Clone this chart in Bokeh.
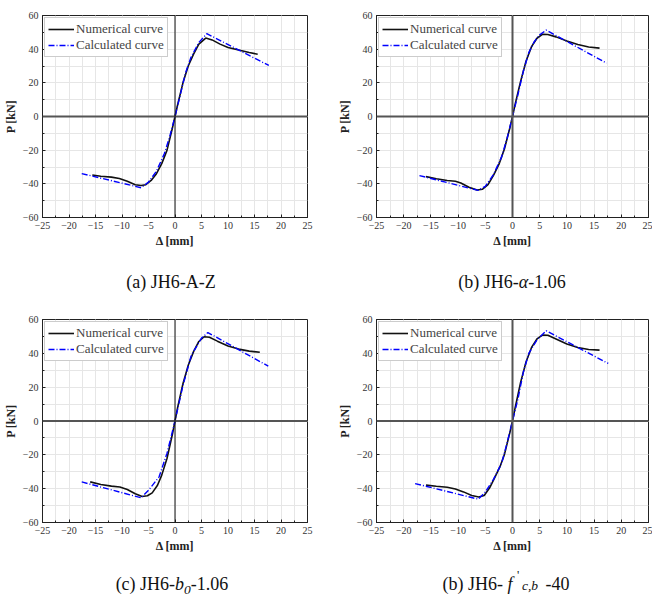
from bokeh.plotting import figure
from bokeh.layouts import column, row
from bokeh.models import SingleIntervalTicker, Span, Div
from bokeh.embed import file_html
from bokeh.resources import INLINE

# ---------------- data ----------------
# (a) JH6-A-Z
a_num_x = [-15.6, -14, -12, -10.5, -9, -7.5, -6.4, -5.5, -4.5, -3.5, -2.5, -1.5, -0.5, 0, 0.5, 1.5, 2.5, 3.5, 4.5, 5.8, 7, 8.5, 10, 12, 14, 15.6]
a_num_y = [-34.8, -35.5, -36, -36.8, -38.5, -40.5, -41, -40.5, -38, -34, -28, -20, -7, 0, 7, 20, 30, 37, 43, 46.6, 45.5, 43, 41, 39.5, 38, 37]
a_cal_x = [-17.6, -6.4, -5, -3.5, -2, -1, 0, 1, 2, 3, 4.5, 6.0, 17.7]
a_cal_y = [-33.9, -42.3, -39, -32.5, -22, -12, 0, 13, 26, 35, 44, 49.2, 30.3]

# (b) JH6-alpha-1.06
b_num_x = [-15.9, -14, -12, -10.5, -9.5, -8, -6.5, -5.5, -4.5, -3.5, -2.5, -1.5, -0.5, 0, 0.5, 1.5, 2.5, 3.5, 4.5, 5.5, 6.5, 8, 10, 12, 14, 16]
b_num_y = [-35.7, -37, -38, -38.5, -39.5, -42, -43.7, -43.2, -40.5, -35, -28.5, -19.5, -7, 0, 7.5, 21, 33, 41.5, 46.5, 48.8, 48.7, 47.3, 44.8, 42.8, 41.3, 40.6]
b_cal_x = [-17.1, -6.3, -5, -3.5, -2, -1, 0, 1, 2, 3, 4, 5, 6.2, 17.3]
b_cal_y = [-35.1, -43.9, -41.5, -34.5, -24, -13, 0, 13, 27, 38, 44.5, 48.5, 51.3, 31.7]

# (c) JH6-b0-1.06
c_num_x = [-16, -14, -12, -10.4, -9, -7.5, -6.2, -5.2, -4.3, -3.3, -2.5, -1.5, -0.5, 0, 0.5, 1.5, 2.5, 3.5, 4.5, 5.5, 6.5, 8, 10, 12, 14, 16]
c_num_y = [-36, -37.5, -38.5, -39, -40.5, -43, -44.6, -44.2, -42.5, -38, -32, -22, -8, 0, 8, 22, 33, 41, 47, 49.8, 49.5, 47.2, 44.3, 42.5, 41.3, 40.6]
c_cal_x = [-17.6, -6.4, -5, -3, -1.5, 0, 1.5, 3, 3.3, 5, 6.2, 17.6]
c_cal_y = [-36, -45.4, -41, -33, -19, 0, 21, 38, 40, 49, 52.3, 32.4]

# (d) JH6-f'c,b-40
d_num_x = [-15.9, -14, -12, -10.5, -9, -7.5, -6.2, -5.2, -4.2, -3.2, -2.3, -1.5, -0.5, 0, 0.5, 1.5, 2.5, 3.5, 4.5, 5.5, 6.5, 8, 10, 12, 14, 16]
d_num_y = [-37.9, -38.6, -39.2, -40.2, -41.9, -44, -44.9, -44, -39.5, -33, -27, -20, -7, 0, 8, 23, 35, 43.5, 48.5, 50.8, 50.7, 48.5, 45.5, 43.5, 42.3, 41.9]
d_cal_x = [-17.9, -6.3, -5, -3.5, -2, -1, 0, 1, 2, 3, 4.5, 6.2, 17.6]
d_cal_y = [-37, -46.2, -42, -34.5, -25, -13, 0, 13, 29, 40, 48, 53.3, 34]

x_lim = (-25, 25)
y_lim = (-60, 60)
legend_labels = ["Numerical curve", "Calculated curve"]

SERIF = "Liberation Serif"


def make_panel(nx, ny, cx, cy, width, height, left, right, top, bottom, vcolor, vwidth):
    p = figure(width=width, height=height, x_range=x_lim, y_range=y_lim,
               output_backend="svg", toolbar_location=None,
               min_border_left=left, min_border_right=right,
               min_border_top=top, min_border_bottom=bottom)
    p.outline_line_color = "#222222"
    p.outline_line_width = 1

    xt = SingleIntervalTicker(interval=5, num_minor_ticks=2)
    yt = SingleIntervalTicker(interval=20, num_minor_ticks=2)
    p.xaxis.ticker = xt
    p.yaxis.ticker = yt
    p.xgrid.ticker = xt
    p.ygrid.ticker = yt
    for g in (p.xgrid, p.ygrid):
        g.grid_line_color = "#e6e6e6"
        g.minor_grid_line_color = "#e6e6e6"
        g.grid_line_width = 1
        g.minor_grid_line_width = 1

    for ax in (p.xaxis, p.yaxis):
        ax.axis_line_color = "#222222"
        ax.major_tick_in = 3
        ax.major_tick_out = 0
        ax.minor_tick_in = 2
        ax.minor_tick_out = 0
        ax.major_tick_line_color = "#222222"
        ax.minor_tick_line_color = "#222222"
        ax.major_label_text_font = SERIF
        ax.major_label_text_font_size = "10px"
        ax.major_label_text_color = "#333333"
        ax.major_label_standoff = 4
        ax.axis_label_text_font = SERIF
        ax.axis_label_text_font_size = "12px"
        ax.axis_label_text_font_style = "bold"
        ax.axis_label_text_color = "#222222"
        ax.axis_label_standoff = 2
    p.xaxis.axis_label = "Δ [mm]"
    p.yaxis.axis_label = "P [kN]"

    p.add_layout(Span(location=0, dimension="width", line_color="#555555", line_width=2))
    p.add_layout(Span(location=0, dimension="height", line_color=vcolor, line_width=vwidth))

    p.line(nx, ny, line_color="#111111", line_width=1.6, legend_label=legend_labels[0])
    p.line(cx, cy, line_color="#0000ff", line_width=1.4, line_dash="6 2 1 2",
           legend_label=legend_labels[1])

    lg = p.legend[0]
    lg.location = "top_left"
    lg.margin = 2
    lg.padding = 3
    lg.spacing = 0
    lg.label_text_font = SERIF
    lg.label_text_font_size = "13px"
    lg.label_height = 14
    lg.glyph_height = 14
    lg.glyph_width = 26
    lg.label_standoff = 2
    lg.border_line_color = "#999999"
    lg.border_line_width = 1
    lg.background_fill_alpha = 1
    return p


def caption(html, pad_left, height, pad_top):
    return Div(text=html, width=326, height=height, margin=0,
               styles={"width": "326px", "height": "%dpx" % height,
                       "padding-left": "%dpx" % pad_left, "padding-top": "%dpx" % pad_top,
                       "box-sizing": "border-box", "text-align": "center",
                       "font-family": "'Liberation Serif', 'Times New Roman', serif",
                       "font-size": "18px", "line-height": "20px", "color": "#111111",
                       "white-space": "nowrap", "overflow": "visible"})


pa = make_panel(a_num_x, a_num_y, a_cal_x, a_cal_y, 326, 250, 36, 19, 15, 32, "#111111", 1)
pb = make_panel(b_num_x, b_num_y, b_cal_x, b_cal_y, 326, 250, 50, 4, 15, 32, "#555555", 2)
pc = make_panel(c_num_x, c_num_y, c_cal_x, c_cal_y, 326, 255, 36, 19, 19, 33, "#111111", 1)
pd = make_panel(d_num_x, d_num_y, d_cal_x, d_cal_y, 326, 255, 50, 4, 19, 33, "#555555", 2)

FONT_SPAN = "<span style=\"font-family:'Liberation Serif','Times New Roman',serif\">%s</span>"

cap_a = caption(FONT_SPAN % "(a) JH6-A-Z", 16, 50, 22)
cap_b = caption(FONT_SPAN % "(b) JH6-<i>α</i>-1.06", 46, 50, 22)
cap_c = caption(FONT_SPAN % "(c) JH6-<i>b<span style=\"font-size:75%;position:relative;top:4px\">0</span></i>-1.06", 18, 42, 19)
cap_d = caption(FONT_SPAN % ("(b) JH6- <i>f</i> <span style=\"display:inline-block;position:relative;width:24px;height:16px;text-align:left\">"
                "<span style=\"position:absolute;left:0px;top:-3px;font-size:70%;line-height:9px\">'</span>"
                "<i style=\"position:absolute;left:5px;top:6px;font-size:75%;line-height:12px\">c,b</i></span> -40"), 34, 42, 19)

layout = column(row(pa, pb), row(cap_a, cap_b), row(pc, pd), row(cap_c, cap_d))

open("out.html", "w").write(file_html(layout, INLINE))
